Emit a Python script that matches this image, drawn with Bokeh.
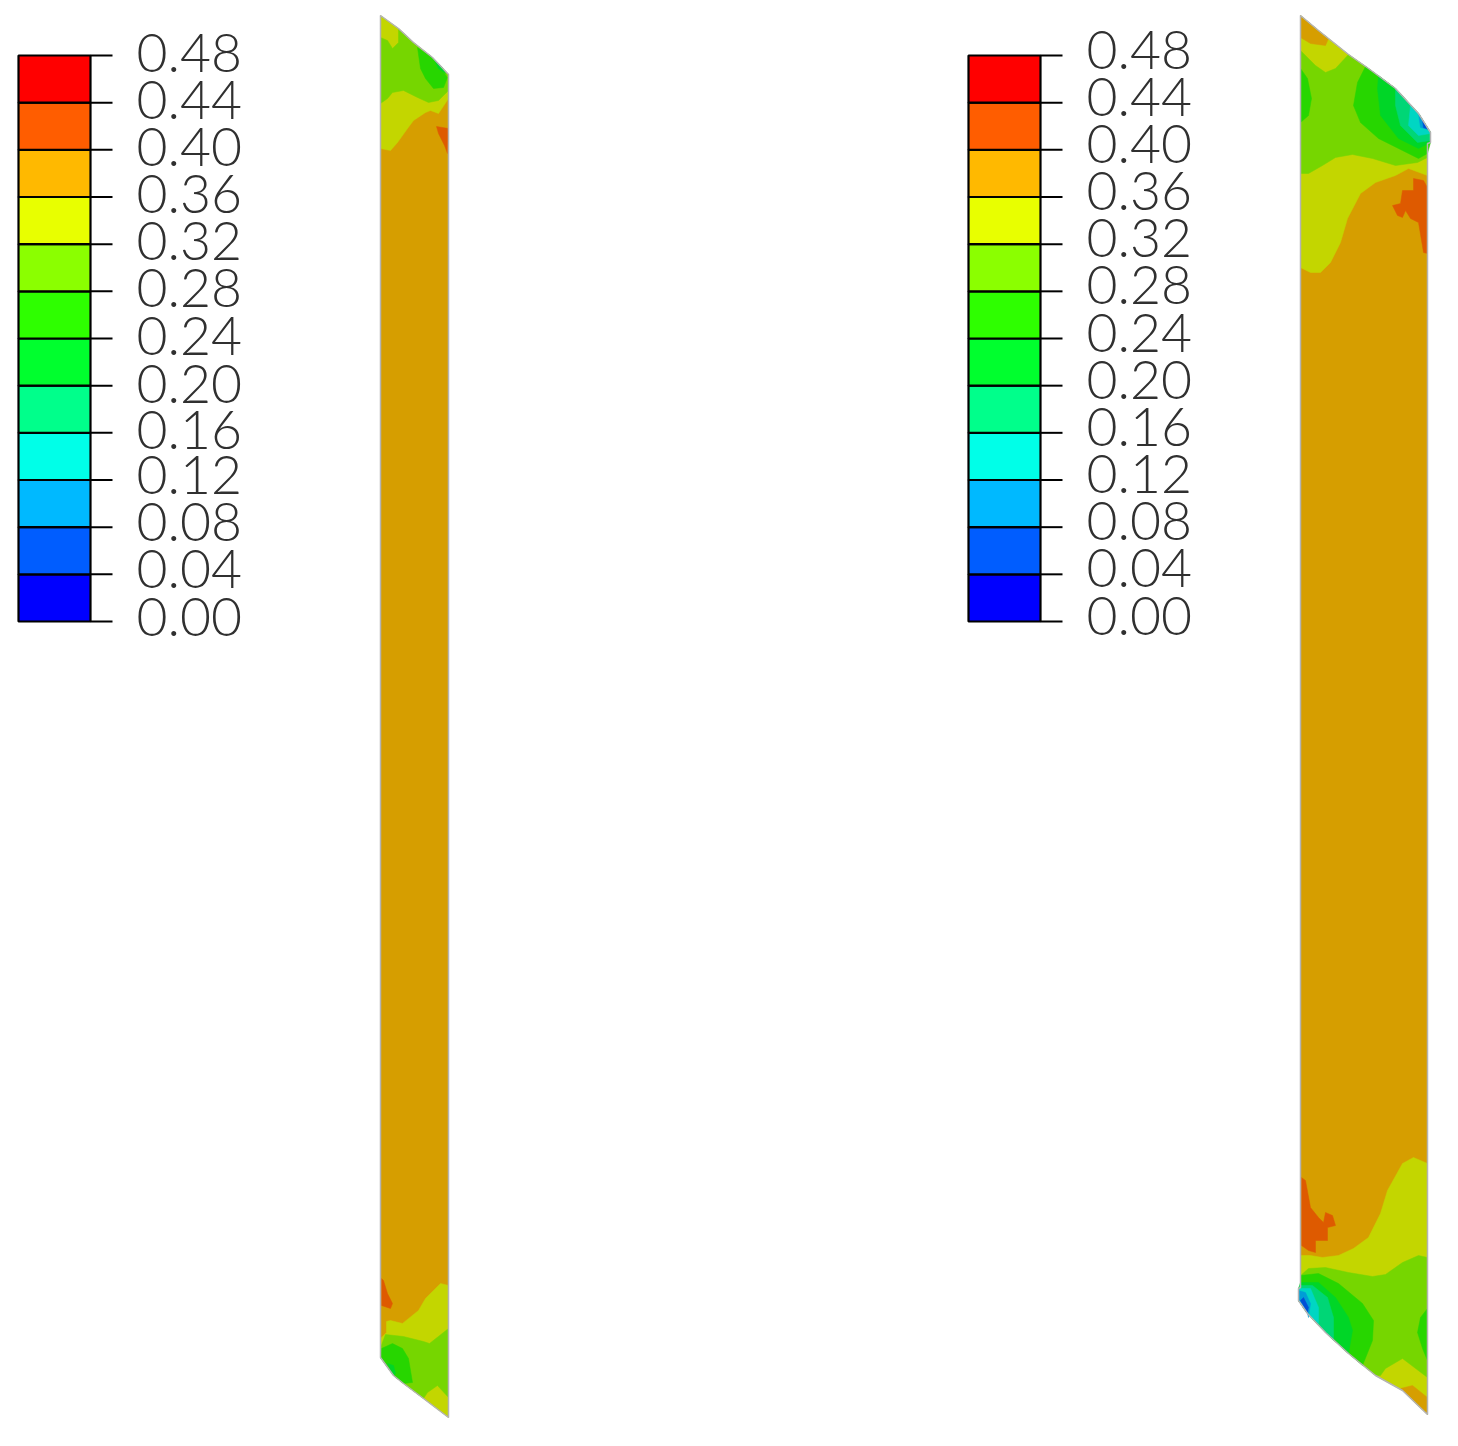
from bokeh.plotting import figure
from bokeh.core.properties import value
from bokeh.models import Range1d
from bokeh.embed import file_html
from bokeh.resources import INLINE

LEVELS = [0.00, 0.04, 0.08, 0.12, 0.16, 0.20, 0.24, 0.28, 0.32, 0.36, 0.40, 0.44, 0.48]
TICK_LABELS = ["0.00", "0.04", "0.08", "0.12", "0.16", "0.20", "0.24", "0.28", "0.32", "0.36", "0.40", "0.44", "0.48"]
LEGEND_COLORS = ["#0000FF", "#005DFF", "#00B9FF", "#00FFE8", "#00FF8B", "#00FF2E",
                 "#2EFF00", "#8BFF00", "#E8FF00", "#FFB900", "#FF5D00", "#FF0000"]
SHADED_COLORS = ["#0000D6", "#004FD6", "#009ED6", "#00D6C3", "#00D676", "#00D627",
                 "#27D600", "#76D600", "#C3D600", "#D69E00", "#DE5A00", "#D60000"]

# Contour bands, painted from the base band upward: (band value, outline points)
LEFT_OUTLINE = [(380,15),(398,28),(413,42),(432,57),(448,74),(448,1417),(423,1398),(403,1383),(393,1375),(380,1357)]
LEFT_BANDS = [
    (0.34, [(380,15),(398,28),(413,42),(432,57),(448,74),(448,98),(438,113),(430,110),(425,112),(413,120),(407,128),(397,142),(390,150),(380,148)]),
    (0.30, [(380,37),(387,40),(392,48),(398,42),(398,28),(413,42),(432,57),(448,74),(448,90),(438,100),(428,102),(417,97),(403,90),(392,92),(387,98),(380,103)]),
    (0.26, [(417,47),(420,68),(425,78),(433,88),(443,87),(447,77),(432,57)]),
    (0.22, [(433,58),(442,67),(445,73),(438,68)]),
    (0.42, [(436,126),(448,128),(447,153),(444,145),(438,133)]),
    (0.34, [(380,1338),(386,1332),(386,1321),(390,1320),(402,1323),(418,1310),(425,1298),(433,1290),(440,1283),(448,1285),(448,1417),(423,1398),(403,1383),(393,1375),(380,1357)]),
    (0.30, [(380,1347),(385,1334),(403,1336),(423,1341),(429,1343),(448,1328),(448,1397),(437,1385),(427,1392),(423,1398),(403,1383),(393,1375),(380,1357)]),
    (0.26, [(381,1348),(392,1343),(402,1348),(408,1358),(412,1382),(403,1383),(393,1375),(380,1357)]),
    (0.22, [(387,1363),(393,1365),(395,1373),(393,1375)]),
    (0.42, [(381,1278),(383,1280),(387,1293),(392,1303),(390,1308),(381,1305)]),
]
RIGHT_OUTLINE = [(1300,15),(1318,30),(1328,38),(1348,54),(1368,68),(1395,88),(1418,113),(1430,132),(1430,142),(1427,143),
                 (1427,1414),(1402,1390),(1375,1375),(1348,1353),(1325,1332),(1307,1313),(1298,1300),(1298,1288),(1300,1287)]
RIGHT_BANDS = [
    (0.34, [(1300,15),(1318,30),(1328,38),(1348,54),(1368,68),(1395,88),(1418,113),(1430,132),(1430,142),(1427,143),(1427,175),(1408,168),(1395,175),(1375,182),(1360,193),(1347,218),(1340,242),(1330,262),(1320,272),(1310,272),(1300,267)]),
    (0.38, [(1300,15),(1318,30),(1328,38),(1325,45),(1310,43),(1300,37)]),
    (0.30, [(1300,50),(1315,65),(1325,72),(1335,68),(1348,54),(1368,68),(1395,88),(1418,113),(1430,132),(1430,142),(1427,143),(1427,157),(1417,162),(1395,165),(1372,158),(1352,154),(1335,157),(1322,165),(1308,173),(1300,173)]),
    (0.26, [(1300,68),(1307,78),(1311,98),(1308,115),(1300,122)]),
    (0.26, [(1365,66),(1357,82),(1353,105),(1360,122),(1378,138),(1402,150),(1418,158),(1427,153),(1430,142),(1430,132),(1418,113),(1395,88)]),
    (0.22, [(1378,75),(1377,88),(1380,115),(1398,138),(1418,148),(1430,142),(1430,132),(1418,113),(1395,88)]),
    (0.18, [(1395,88),(1395,105),(1400,125),(1417,142),(1430,140),(1430,132),(1418,113)]),
    (0.14, [(1410,105),(1408,125),(1418,135),(1430,133),(1418,113)]),
    (0.10, [(1418,113),(1420,127),(1428,129)]),
    (0.06, [(1422,120),(1423,127),(1428,129)]),
    (0.42, [(1413,178),(1423,180),(1427,187),(1427,253),(1423,252),(1418,222),(1410,218),(1405,210),(1402,217),(1397,215),(1392,205),(1400,203),(1402,190),(1413,190)]),
    (0.34, [(1300,1255),(1310,1255),(1322,1257),(1338,1255),(1353,1248),(1368,1237),(1380,1213),(1387,1190),(1402,1163),(1413,1157),(1427,1163),(1427,1414),(1402,1390),(1375,1375),(1348,1353),(1325,1332),(1307,1313),(1298,1300),(1298,1288),(1300,1287)]),
    (0.38, [(1400,1388),(1412,1385),(1427,1397),(1427,1414),(1402,1390)]),
    (0.30, [(1300,1275),(1308,1268),(1325,1267),(1348,1272),(1372,1276),(1385,1274),(1402,1262),(1418,1255),(1427,1257),(1427,1377),(1402,1358),(1385,1368),(1380,1375),(1375,1375),(1348,1353),(1325,1332),(1307,1313),(1298,1300),(1298,1288),(1300,1287)]),
    (0.26, [(1427,1308),(1420,1317),(1417,1332),(1422,1348),(1427,1360)]),
    (0.26, [(1300,1275),(1318,1273),(1338,1283),(1362,1303),(1373,1320),(1372,1340),(1362,1365),(1348,1353),(1325,1332),(1307,1313),(1298,1300),(1298,1288),(1300,1287)]),
    (0.22, [(1300,1282),(1318,1282),(1335,1297),(1348,1317),(1352,1330),(1348,1353),(1325,1332),(1307,1313),(1298,1300),(1298,1288)]),
    (0.18, [(1300,1285),(1312,1285),(1327,1297),(1333,1317),(1333,1340),(1325,1332),(1307,1313),(1298,1300),(1298,1288)]),
    (0.14, [(1298,1288),(1310,1288),(1318,1307),(1318,1323),(1307,1313),(1298,1300)]),
    (0.10, [(1298,1290),(1305,1292),(1310,1303),(1308,1317),(1307,1313),(1298,1300)]),
    (0.06, [(1300,1300),(1303,1297),(1308,1307),(1307,1312)]),
    (0.42, [(1301,1177),(1305,1180),(1310,1207),(1318,1217),(1323,1222),(1325,1212),(1332,1215),(1335,1225),(1327,1227),(1327,1240),(1315,1240),(1315,1252),(1308,1250),(1301,1245)]),
]
BASE_BAND = 0.38

W, H = 1458, 1446
PX_TOP, PX_BOTTOM = 55, 621   # page rows of the legend's top and bottom levels
per_px = (LEVELS[-1] - LEVELS[0]) / (PX_BOTTOM - PX_TOP)


def band_color(band):
    for i in range(len(LEVELS) - 1):
        if LEVELS[i] <= band < LEVELS[i + 1]:
            return SHADED_COLORS[i]
    return SHADED_COLORS[-1]


p = figure(width=W, height=H, output_backend="svg", toolbar_location=None,
           x_range=Range1d(0, W), y_range=Range1d(H, 0),
           min_border_left=0, min_border_right=0, min_border_top=0, min_border_bottom=0)
p.extra_y_ranges = {"legend": Range1d(LEVELS[0] - (H - PX_BOTTOM) * per_px, LEVELS[-1] + PX_TOP * per_px)}
p.axis.visible = False
p.grid.visible = False
p.outline_line_color = None


def draw_legend(x0, label_x, label_shift):
    n = len(LEVELS)
    p.quad(left=x0, right=x0 + 72, bottom=LEVELS[:-1], top=LEVELS[1:], fill_color=LEGEND_COLORS,
           line_color="black", line_width=2.2, y_range_name="legend")
    p.segment(x0=[x0 + 72] * n, x1=[x0 + 94] * n, y0=LEVELS, y1=LEVELS, line_color="black",
              line_width=2, y_range_name="legend")
    p.text(x=[label_x] * n, y=LEVELS, text=TICK_LABELS, y_range_name="legend",
           y_offset=label_shift, text_baseline="middle", text_align="left",
           text_font=value("'Lato Light', Lato, sans-serif"), text_font_size="53.5px", text_color="#303030")


def draw_strip(outline, bands):
    p.patch([q[0] for q in outline], [q[1] for q in outline], fill_color=band_color(BASE_BAND), line_color=None)
    for band, pts in bands:
        p.patch([q[0] for q in pts], [q[1] for q in pts], fill_color=band_color(band),
                line_color=band_color(band), line_width=0.5)
    p.patch([q[0] for q in outline], [q[1] for q in outline], fill_color=None, line_color="#B4B4B4", line_width=1.5)


draw_legend(18, 136, [-5, -5, -5, -5, -3, -2, -3, -3, -3, -3, -3, -3, -3])
draw_legend(968, 1086, [-6] * 13)
draw_strip(LEFT_OUTLINE, LEFT_BANDS)
draw_strip(RIGHT_OUTLINE, RIGHT_BANDS)

open("out.html", "w").write(file_html(p, INLINE))
